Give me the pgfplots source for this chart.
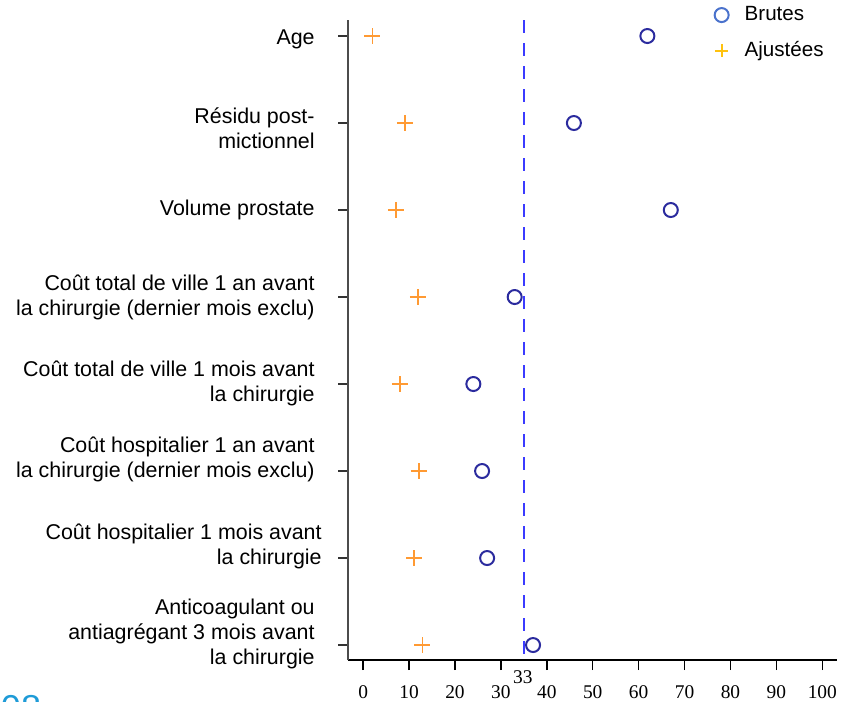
\documentclass[border=0pt]{standalone}
\usepackage{fontspec}
\setmainfont{Liberation Sans}
\newfontfamily\timesfont{Liberation Serif}
\usepackage{pgfplots}
\pgfplotsset{compat=1.18}
\definecolor{circblue}{HTML}{2B2B9E}
\definecolor{crossorange}{HTML}{FF9A33}
\definecolor{legblue}{HTML}{4A72CC}
\definecolor{legyellow}{HTML}{FFC20E}
\definecolor{dashblue}{HTML}{3B3BFF}
\definecolor{pageblue}{HTML}{1E9BD7}
\begin{document}
\begin{tikzpicture}
\begin{axis}[
 at={(174pt,20.5pt)}, anchor=south west,
 scale only axis, width=244.5pt, height=320pt,
 xmin=-3.3, xmax=103.2, ymin=0.828, ymax=8.184,
 axis x line*=bottom, axis y line*=left,
 x axis line style={black, line width=0.7pt},
 y axis line style={black!70, line width=1pt},
 xtick={0,10,...,100}, ytick={1,...,8}, yticklabels={},
 tick align=outside, major tick length=5pt,
 xtick style={black, line width=0.7pt},
 ytick style={black!80, line width=0.8pt},
 /pgf/number format/assume math mode=true,
 xticklabel style={font=\timesfont\fontsize{9.7}{11}\selectfont, yshift=-4.5pt},
 clip=false,
 legend style={at={(axis description cs:0.749,1.028)}, anchor=north west,
   draw=none, fill=none, inner sep=0pt, row sep=5pt,
   font=\fontsize{10.3}{12}\selectfont,
   /tikz/every odd column/.append style={column sep=6pt}},
 legend cell align=left,
]
\addplot[dashblue, line width=1pt, dash pattern=on 6.5pt off 5pt, forget plot]
  coordinates {(35,8.184) (35,0.828)};
\addplot[only marks, mark=o, mark size=3.5pt, circblue, line width=1pt, forget plot]
  coordinates {(61.9,8) (45.9,7) (67,6) (33,5) (24.0,4) (25.9,3) (27.0,2) (37,1)};
\addplot[only marks, mark=+, mark size=4pt, crossorange, line width=0.8pt, forget plot]
  coordinates {(2.0,8) (9.1,7) (7.1,6) (11.9,5) (8.0,4) (12.1,3) (11.1,2) (12.9,1)};
\addlegendimage{only marks, mark=o, mark size=3.5pt, legblue, line width=1pt}
\addlegendentry{Brutes}
\addlegendimage{only marks, mark=+, mark size=3.3pt, legyellow, line width=1pt}
\addlegendentry{Ajustées}

\tikzset{lab/.style={anchor=east, align=right, inner sep=0pt, font=\fontsize{10.7}{12.5}\selectfont}}
\node[lab, xshift=-16.5pt, yshift=-1.5pt] at (axis cs:-3.3,8) {Age};
\node[lab, xshift=-16.5pt, yshift=-2.5pt] at (axis cs:-3.3,7) {Résidu post-\\mictionnel};
\node[lab, xshift=-16.5pt] at (axis cs:-3.3,6) {Volume prostate};
\node[lab, xshift=-16.5pt] at (axis cs:-3.3,5) {Coût total de ville 1 an avant\\la chirurgie (dernier mois exclu)};
\node[lab, xshift=-16.5pt, yshift=0.5pt] at (axis cs:-3.3,4) {Coût total de ville 1 mois avant\\la chirurgie};
\node[lab, xshift=-16.5pt, yshift=6pt] at (axis cs:-3.3,3) {Coût hospitalier 1 an avant\\la chirurgie (dernier mois exclu)};
\node[lab, xshift=-13pt, yshift=6pt] at (axis cs:-3.3,2) {Coût hospitalier 1 mois avant\\la chirurgie};
\node[lab, xshift=-16.5pt, yshift=5.5pt] at (axis cs:-3.3,1) {Anticoagulant ou\\antiagrégant 3 mois avant\\la chirurgie};
\node[font=\timesfont\fontsize{9.7}{11}\selectfont, inner sep=0pt, yshift=-8.5pt] at (axis cs:34.8,0.828) {33};
\end{axis}
\node[anchor=north west, inner sep=0pt, text=pageblue, font=\fontsize{18}{20}\selectfont] at (0.3pt,3pt) {08};
\pgfresetboundingbox
\path[use as bounding box] (0,0) rectangle (425pt,350.5pt);
\end{tikzpicture}
\end{document}
